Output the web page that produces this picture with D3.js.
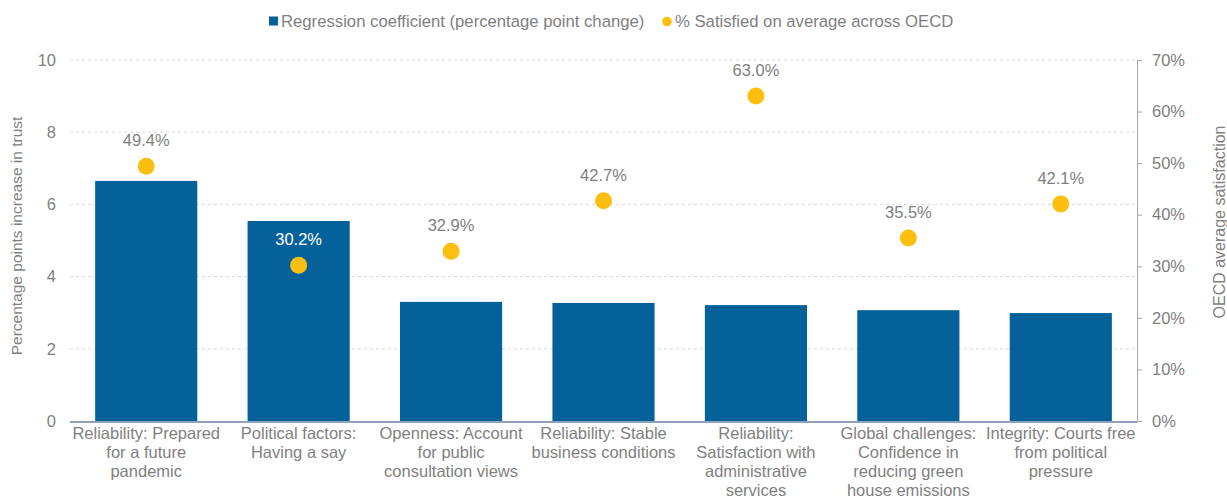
<!DOCTYPE html>
<html><head><meta charset="utf-8">
<script src="https://cdn.jsdelivr.net/npm/d3@7"></script>
<style>body{margin:0;background:#fff;} text{font-family:"Liberation Sans",Arial,sans-serif;}</style>
</head><body>
<svg id="c" width="1227" height="499"></svg>
<script>
const categories = [
  ["Reliability: Prepared","for a future","pandemic"],
  ["Political factors:","Having a say"],
  ["Openness: Account","for public","consultation views"],
  ["Reliability: Stable","business conditions"],
  ["Reliability:","Satisfaction with","administrative","services"],
  ["Global challenges:","Confidence in","reducing green","house emissions"],
  ["Integrity: Courts free","from political","pressure"]
];
const coefficients = [6.65, 5.54, 3.30, 3.27, 3.21, 3.07, 2.99];
const satisfaction = [49.4, 30.2, 32.9, 42.7, 63.0, 35.5, 42.1];
const leftTicks = [0, 2, 4, 6, 8, 10];
const rightTicks = [0, 10, 20, 30, 40, 50, 60, 70];
const seriesNames = ["Regression coefficient (percentage point change)", "% Satisfied on average across OECD"];

const svg = d3.select("#c");
const L = 70, R = 1137, T = 60, B = 421;
const gray = "#7f7f7f", blue = "#05619a", yellow = "#fcbf0f";
const fs = "16.5px";

const x = d3.scaleBand().domain(d3.range(categories.length)).range([L, R]).paddingInner(0.33).paddingOuter(0.165);
const y = d3.scaleLinear().domain([0, 10]).range([B, T]);
const y2 = d3.scaleLinear().domain([0, 70]).range([B, T]);

// gridlines
svg.append("g").selectAll("line").data(leftTicks.filter(d => d > 0)).join("line")
  .attr("x1", L).attr("x2", R).attr("y1", d => y(d)).attr("y2", d => y(d))
  .attr("stroke", "#d9d9d9").attr("stroke-dasharray", "3,3").attr("stroke-width", 1);

// bars
svg.append("g").selectAll("rect").data(coefficients).join("rect")
  .attr("x", (d, i) => x(i)).attr("width", x.bandwidth())
  .attr("y", d => y(d)).attr("height", d => B - y(d)).attr("fill", blue);

// left axis
const ga = svg.append("g").attr("transform", `translate(${L},0)`)
  .call(d3.axisLeft(y).tickValues(leftTicks).tickSize(0).tickPadding(14));
ga.select(".domain").remove();
ga.selectAll("text").attr("fill", gray).style("font-size", fs).style("font-family", "Liberation Sans, Arial");

// right axis
const gr = svg.append("g").attr("transform", `translate(${R},0)`)
  .call(d3.axisRight(y2).tickValues(rightTicks).tickFormat(d => d + "%").tickSize(5).tickPadding(10).tickSizeOuter(0));
gr.select(".domain").attr("stroke", "#a6a6a6");
gr.selectAll(".tick line").attr("stroke", "#a6a6a6");
gr.selectAll("text").attr("fill", gray).style("font-size", fs).style("font-family", "Liberation Sans, Arial");

// bottom axis line
svg.append("line").attr("x1", L).attr("x2", R).attr("y1", B + 1).attr("y2", B + 1)
  .attr("stroke", "#8ea3b9").attr("stroke-width", 2);

// category labels
const cl = svg.append("g").selectAll("text").data(categories).join("text")
  .attr("text-anchor", "middle").attr("fill", gray).style("font-size", fs)
  .attr("x", (d, i) => x(i) + x.bandwidth() / 2).attr("y", 439);
cl.selectAll("tspan").data(d => d).join("tspan")
  .attr("x", function() { return d3.select(this.parentNode).attr("x"); })
  .attr("dy", (d, j) => j === 0 ? 0 : 19).text(d => d);

// dots
svg.append("g").selectAll("circle").data(satisfaction).join("circle")
  .attr("cx", (d, i) => x(i) + x.bandwidth() / 2).attr("cy", d => y2(d)).attr("r", 8.5).attr("fill", yellow);

// dot labels
svg.append("g").selectAll("text").data(satisfaction).join("text")
  .attr("text-anchor", "middle").style("font-size", fs)
  .attr("fill", (d, i) => y2(d) - 27 > y(coefficients[i]) ? "#ffffff" : gray)
  .attr("x", (d, i) => x(i) + x.bandwidth() / 2).attr("y", d => y2(d) - 20)
  .text(d => d.toFixed(1) + "%");

// axis titles
svg.append("text").attr("transform", `translate(22,236) rotate(-90)`)
  .attr("text-anchor", "middle").attr("fill", gray).style("font-size", "15.5px").text("Percentage points increase in trust");
svg.append("text").attr("transform", `translate(1225,222) rotate(-90)`)
  .attr("text-anchor", "middle").attr("fill", gray).style("font-size", "16px").text("OECD average satisfaction");

// legend
const lg = svg.append("g");
lg.append("rect").attr("x", 269).attr("y", 16.5).attr("width", 9).attr("height", 9).attr("fill", blue);
lg.append("text").attr("x", 281).attr("y", 27).attr("fill", gray).style("font-size", "16.7px").text(seriesNames[0]);
lg.append("circle").attr("cx", 667).attr("cy", 21.5).attr("r", 4.8).attr("fill", yellow);
lg.append("text").attr("x", 675).attr("y", 27).attr("fill", gray).style("font-size", "16.7px").text(seriesNames[1]);
</script>
</body></html>
